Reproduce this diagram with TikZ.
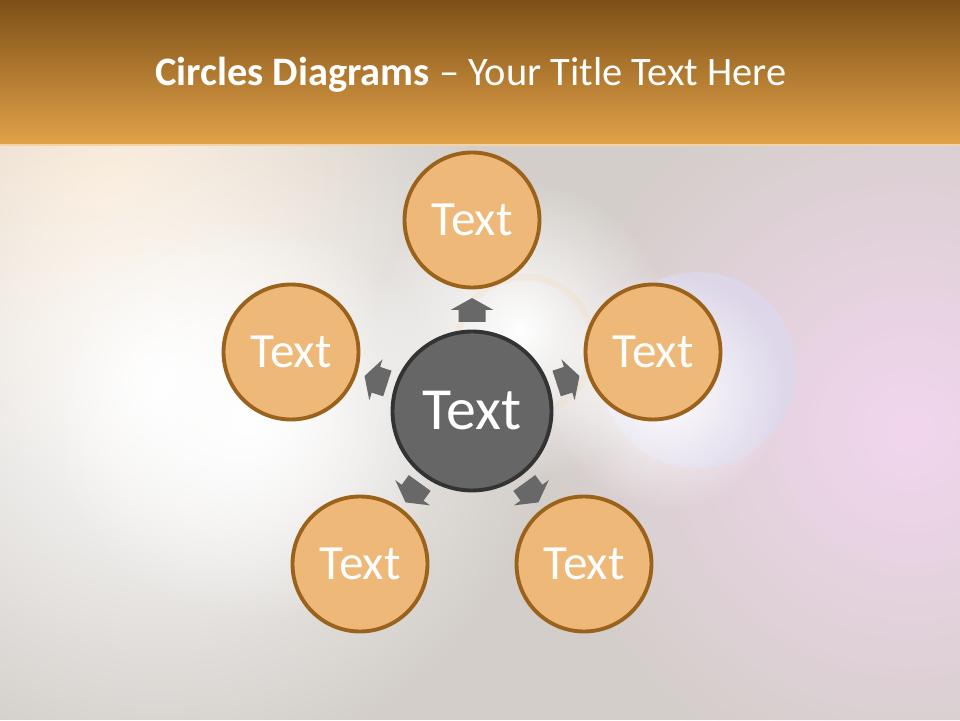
\documentclass[tikz,border=0pt]{standalone}
\usepackage{fontspec}
\setmainfont{Carlito}
\usetikzlibrary{fadings}

\definecolor{bgcol}{HTML}{D3CEC9}
\definecolor{headtop}{HTML}{7E5016}
\definecolor{headmid}{HTML}{BD7420}
\definecolor{headbot}{HTML}{E2A24A}
\definecolor{headline}{HTML}{F5D3A8}
\definecolor{peach}{HTML}{F6DFC2}
\definecolor{pinkglow}{HTML}{F2D6EE}
\definecolor{blueglow}{HTML}{DCD9EE}
\definecolor{petalfill}{HTML}{EDB878}
\definecolor{petaledge}{HTML}{9B621C}
\definecolor{hubfill}{HTML}{666666}
\definecolor{hubedge}{HTML}{333333}
\definecolor{arrowcol}{HTML}{686868}

\tikzfading[name = glowfade, inner color = transparent!0, outer color = transparent!100]

\tikzset{
  petal/.style = {circle, draw = petaledge, line width = 2.2pt, fill = petalfill,
                  minimum size = 2.7cm, inner sep = 0pt, text = white,
                  font = \fontsize{28}{30}\selectfont},
  hub/.style = {circle, draw = hubedge, line width = 2.2pt, fill = hubfill,
                minimum size = 3.18cm, inner sep = 0pt, text = white,
                font = \fontsize{34}{36}\selectfont},
  glow/.style = {fill = #1, path fading = glowfade}
}

\begin{document}
\begin{tikzpicture}[x = 0.02cm, y = 0.02cm]
            % Background glows
            \useasboundingbox (0,0) rectangle (960,720);
            \fill[bgcol] (0,0) rectangle (960,720);
            \fill[glow = peach] (110,540) circle (300);
            \fill[glow = white] (160,340) circle (400);
            \fill[glow = white] (250,300) circle (200);
            \fill[glow = pinkglow] (910,290) circle (380);
            \fill[blueglow, opacity = 0.75] (698,350) circle (98);
            \fill[glow = white] (665,330) circle (120);
            \fill[glow = white] (520,390) circle (150);
            \draw[orange!70, opacity = 0.07, line width = 4pt] (525,375) circle (68);
            % Header
            \shade[top color = headtop, middle color = headmid, bottom color = headbot] (0,575) rectangle (960,720);
            \fill[headline] (0,574) rectangle (960,576);
            \node[text = white, font = \fontsize{23}{26}\selectfont] (title) at (471,645)
                {\textbf{Circles Diagrams} -- Your Title Text Here};

            % Nodes with manual coordinates
            \node[hub] (hub) at (472,309) {Text};
            \node[petal] (top) at (472,500) {Text};
            \node[petal] (left) at (291,368) {Text};
            \node[petal] (right) at (653,368) {Text};
            \node[petal] (botleft) at (360,156) {Text};
            \node[petal] (botright) at (584,156) {Text};

            % Arrows
            \foreach \ang in {90,162,18,234,306}
                \fill[arrowcol, shift = {(hub)}, rotate = \ang]
                    (89,-13.5) -- (101,-13.5) -- (101,-21.5) -- (113,0)
                    -- (101,21.5) -- (101,13.5) -- (89,13.5) -- cycle;
        \end{tikzpicture}
\end{document}
